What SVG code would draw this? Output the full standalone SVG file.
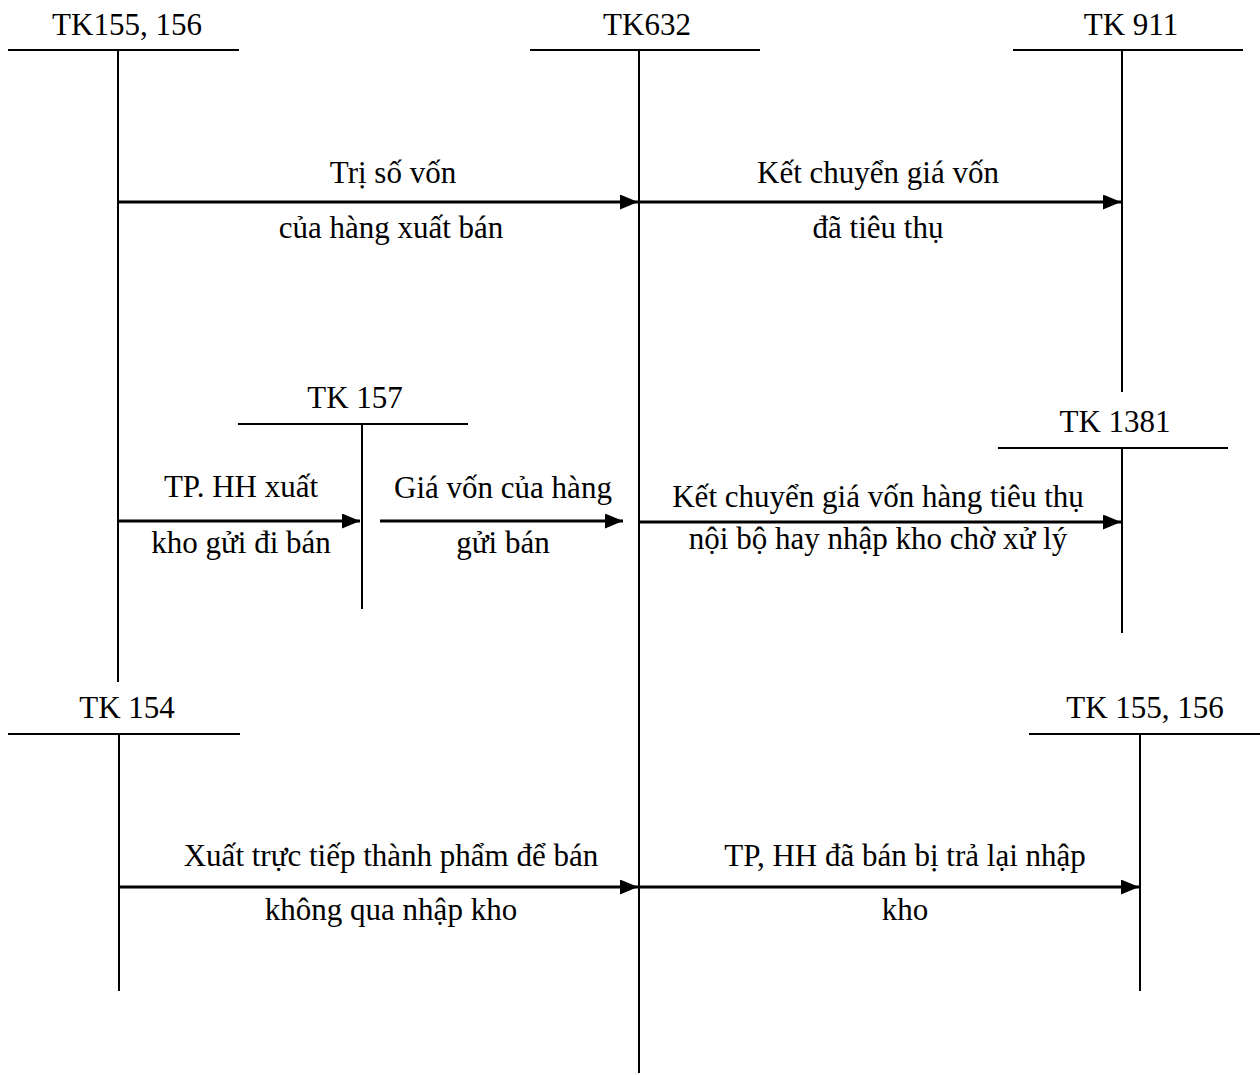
<svg xmlns="http://www.w3.org/2000/svg" width="1260" height="1075" viewBox="0 0 1260 1075">
<style>
text{font-family:"Liberation Serif","Times New Roman",serif;font-size:31px;fill:#000;text-anchor:middle}
.t{stroke:#000;stroke-width:2;fill:none}
.a{stroke:#000;stroke-width:3;fill:none;marker-end:url(#ah)}
</style>
<defs>
<marker id="ah" markerWidth="6" markerHeight="5" refX="6" refY="2.5" orient="auto" markerUnits="strokeWidth">
<path d="M0,0 L6,2.5 L0,5 Z" fill="#000"/>
</marker>
</defs>
<rect width="1260" height="1075" fill="#fff"/>
<g id="tk155-156-top">
<text x="127" y="35">TK155, 156</text>
<line class="t" x1="8" y1="50" x2="239" y2="50"/>
<line class="t" x1="118" y1="50" x2="118" y2="682"/>
</g>
<g id="tk632">
<text x="647" y="35">TK632</text>
<line class="t" x1="530" y1="50" x2="760" y2="50"/>
<line class="t" x1="639" y1="50" x2="639" y2="1073"/>
</g>
<g id="tk911">
<text x="1131" y="35">TK 911</text>
<line class="t" x1="1013" y1="50" x2="1243" y2="50"/>
<line class="t" x1="1122" y1="50" x2="1122" y2="392"/>
</g>
<g id="tk157">
<text x="355" y="408">TK 157</text>
<line class="t" x1="238" y1="424" x2="468" y2="424"/>
<line class="t" x1="362" y1="424" x2="362" y2="609"/>
</g>
<g id="tk1381">
<text x="1115" y="432">TK 1381</text>
<line class="t" x1="998" y1="448" x2="1228" y2="448"/>
<line class="t" x1="1122" y1="448" x2="1122" y2="633"/>
</g>
<g id="tk154">
<text x="127" y="718">TK 154</text>
<line class="t" x1="8" y1="734" x2="240" y2="734"/>
<line class="t" x1="119" y1="734" x2="119" y2="991"/>
</g>
<g id="tk155-156-bottom">
<text x="1145" y="718">TK 155, 156</text>
<line class="t" x1="1029" y1="734" x2="1260" y2="734"/>
<line class="t" x1="1140" y1="734" x2="1140" y2="991"/>
</g>
<g id="connectors">
<line class="a" x1="118" y1="202" x2="638" y2="202"/>
<line class="a" x1="639" y1="202" x2="1121" y2="202"/>
<line class="a" x1="118" y1="521" x2="360" y2="521"/>
<line class="a" x1="380" y1="521" x2="623" y2="521"/>
<line class="a" x1="639" y1="522" x2="1121" y2="522"/>
<line class="a" x1="119" y1="887" x2="638" y2="887"/>
<line class="a" x1="639" y1="887" x2="1139" y2="887"/>
</g>
<g id="labels">
<text x="393" y="183">Trị số vốn</text>
<text x="391" y="238">của hàng xuất bán</text>
<text x="878" y="183">Kết chuyển giá vốn</text>
<text x="878" y="238">đã tiêu thụ</text>
<text x="241" y="497">TP. HH xuất</text>
<text x="241" y="553">kho gửi đi bán</text>
<text x="503" y="498">Giá vốn của hàng</text>
<text x="503" y="553">gửi bán</text>
<text x="878" y="507">Kết chuyển giá vốn hàng tiêu thụ</text>
<text x="878" y="549">nội bộ hay nhập kho chờ xử lý</text>
<text x="391" y="866">Xuất trực tiếp thành phẩm để bán</text>
<text x="391" y="920">không qua nhập kho</text>
<text x="905" y="866">TP, HH đã bán bị trả lại nhập</text>
<text x="905" y="920">kho</text>
</g>
</svg>
